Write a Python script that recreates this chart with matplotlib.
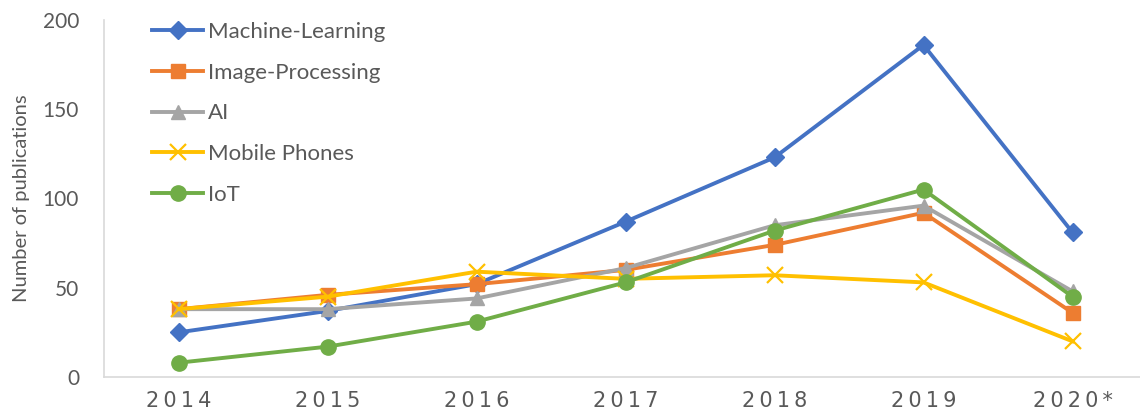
import matplotlib
matplotlib.use("Agg")
import matplotlib.pyplot as plt

anios = ['2014', '2015', '2016', '2017', '2018', '2019', '2020*']
machine_learning = [25, 37, 52, 87, 123, 186, 81]
image_processing = [38, 46, 52, 60, 74, 92, 36]
ai = [38, 38, 44, 61, 85, 96, 48]
mobile_phones = [38, 45, 59, 55, 57, 53, 20]
iot = [8, 17, 31, 53, 82, 105, 45]

series = [
    ('Machine-Learning', machine_learning, '#4472C4', 'D', 9),
    ('Image-Processing', image_processing, '#ED7D31', 's', 10),
    ('AI', ai, '#A5A5A5', '^', 10),
    ('Mobile Phones', mobile_phones, '#FFC000', 'x', 11),
    ('IoT', iot, '#70AD47', 'o', 11),
]

plt.rcParams['font.family'] = ['Lato', 'DejaVu Sans']
texto = '#595959'

fig = plt.figure(figsize=(11.4, 4.18), dpi=100)
ax = fig.add_axes([104 / 1140, 41 / 418, 1043 / 1140, 357 / 418])

x = range(len(anios))
for nombre, valores, color, marca, tam in series:
    ax.plot(x, valores, color=color, lw=2.8, marker=marca, markersize=tam,
            markeredgewidth=1.6 if marca == 'x' else 1, markeredgecolor=color,
            label=nombre)

ax.set_xlim(-0.5, 6.5)
ax.set_ylim(0, 200)
ax.set_yticks([0, 50, 100, 150, 200])
ax.set_xticks(list(x))
# letras espaciadas como en el original
ax.set_xticklabels(['\u2009'.join(a) for a in anios], family=['DejaVu Sans'],
                   fontsize=12)
ax.tick_params(length=0, colors=texto, labelsize=15)
ax.tick_params(axis='x', pad=10)
ax.tick_params(axis='y', pad=18)
ax.set_ylabel('Number of publications', fontsize=14.5, color=texto, labelpad=9)

for lado in ['top', 'right']:
    ax.spines[lado].set_visible(False)
for lado in ['left', 'bottom']:
    ax.spines[lado].set_color('#D9D9D9')
    ax.spines[lado].set_linewidth(1.2)

leg = ax.legend(loc='upper left', bbox_to_anchor=(0.027, 1.05), frameon=False,
                fontsize=16, handlelength=2.3, labelspacing=0.93,
                handletextpad=0.2, labelcolor=texto)

fig.savefig('out.png', dpi=100)
